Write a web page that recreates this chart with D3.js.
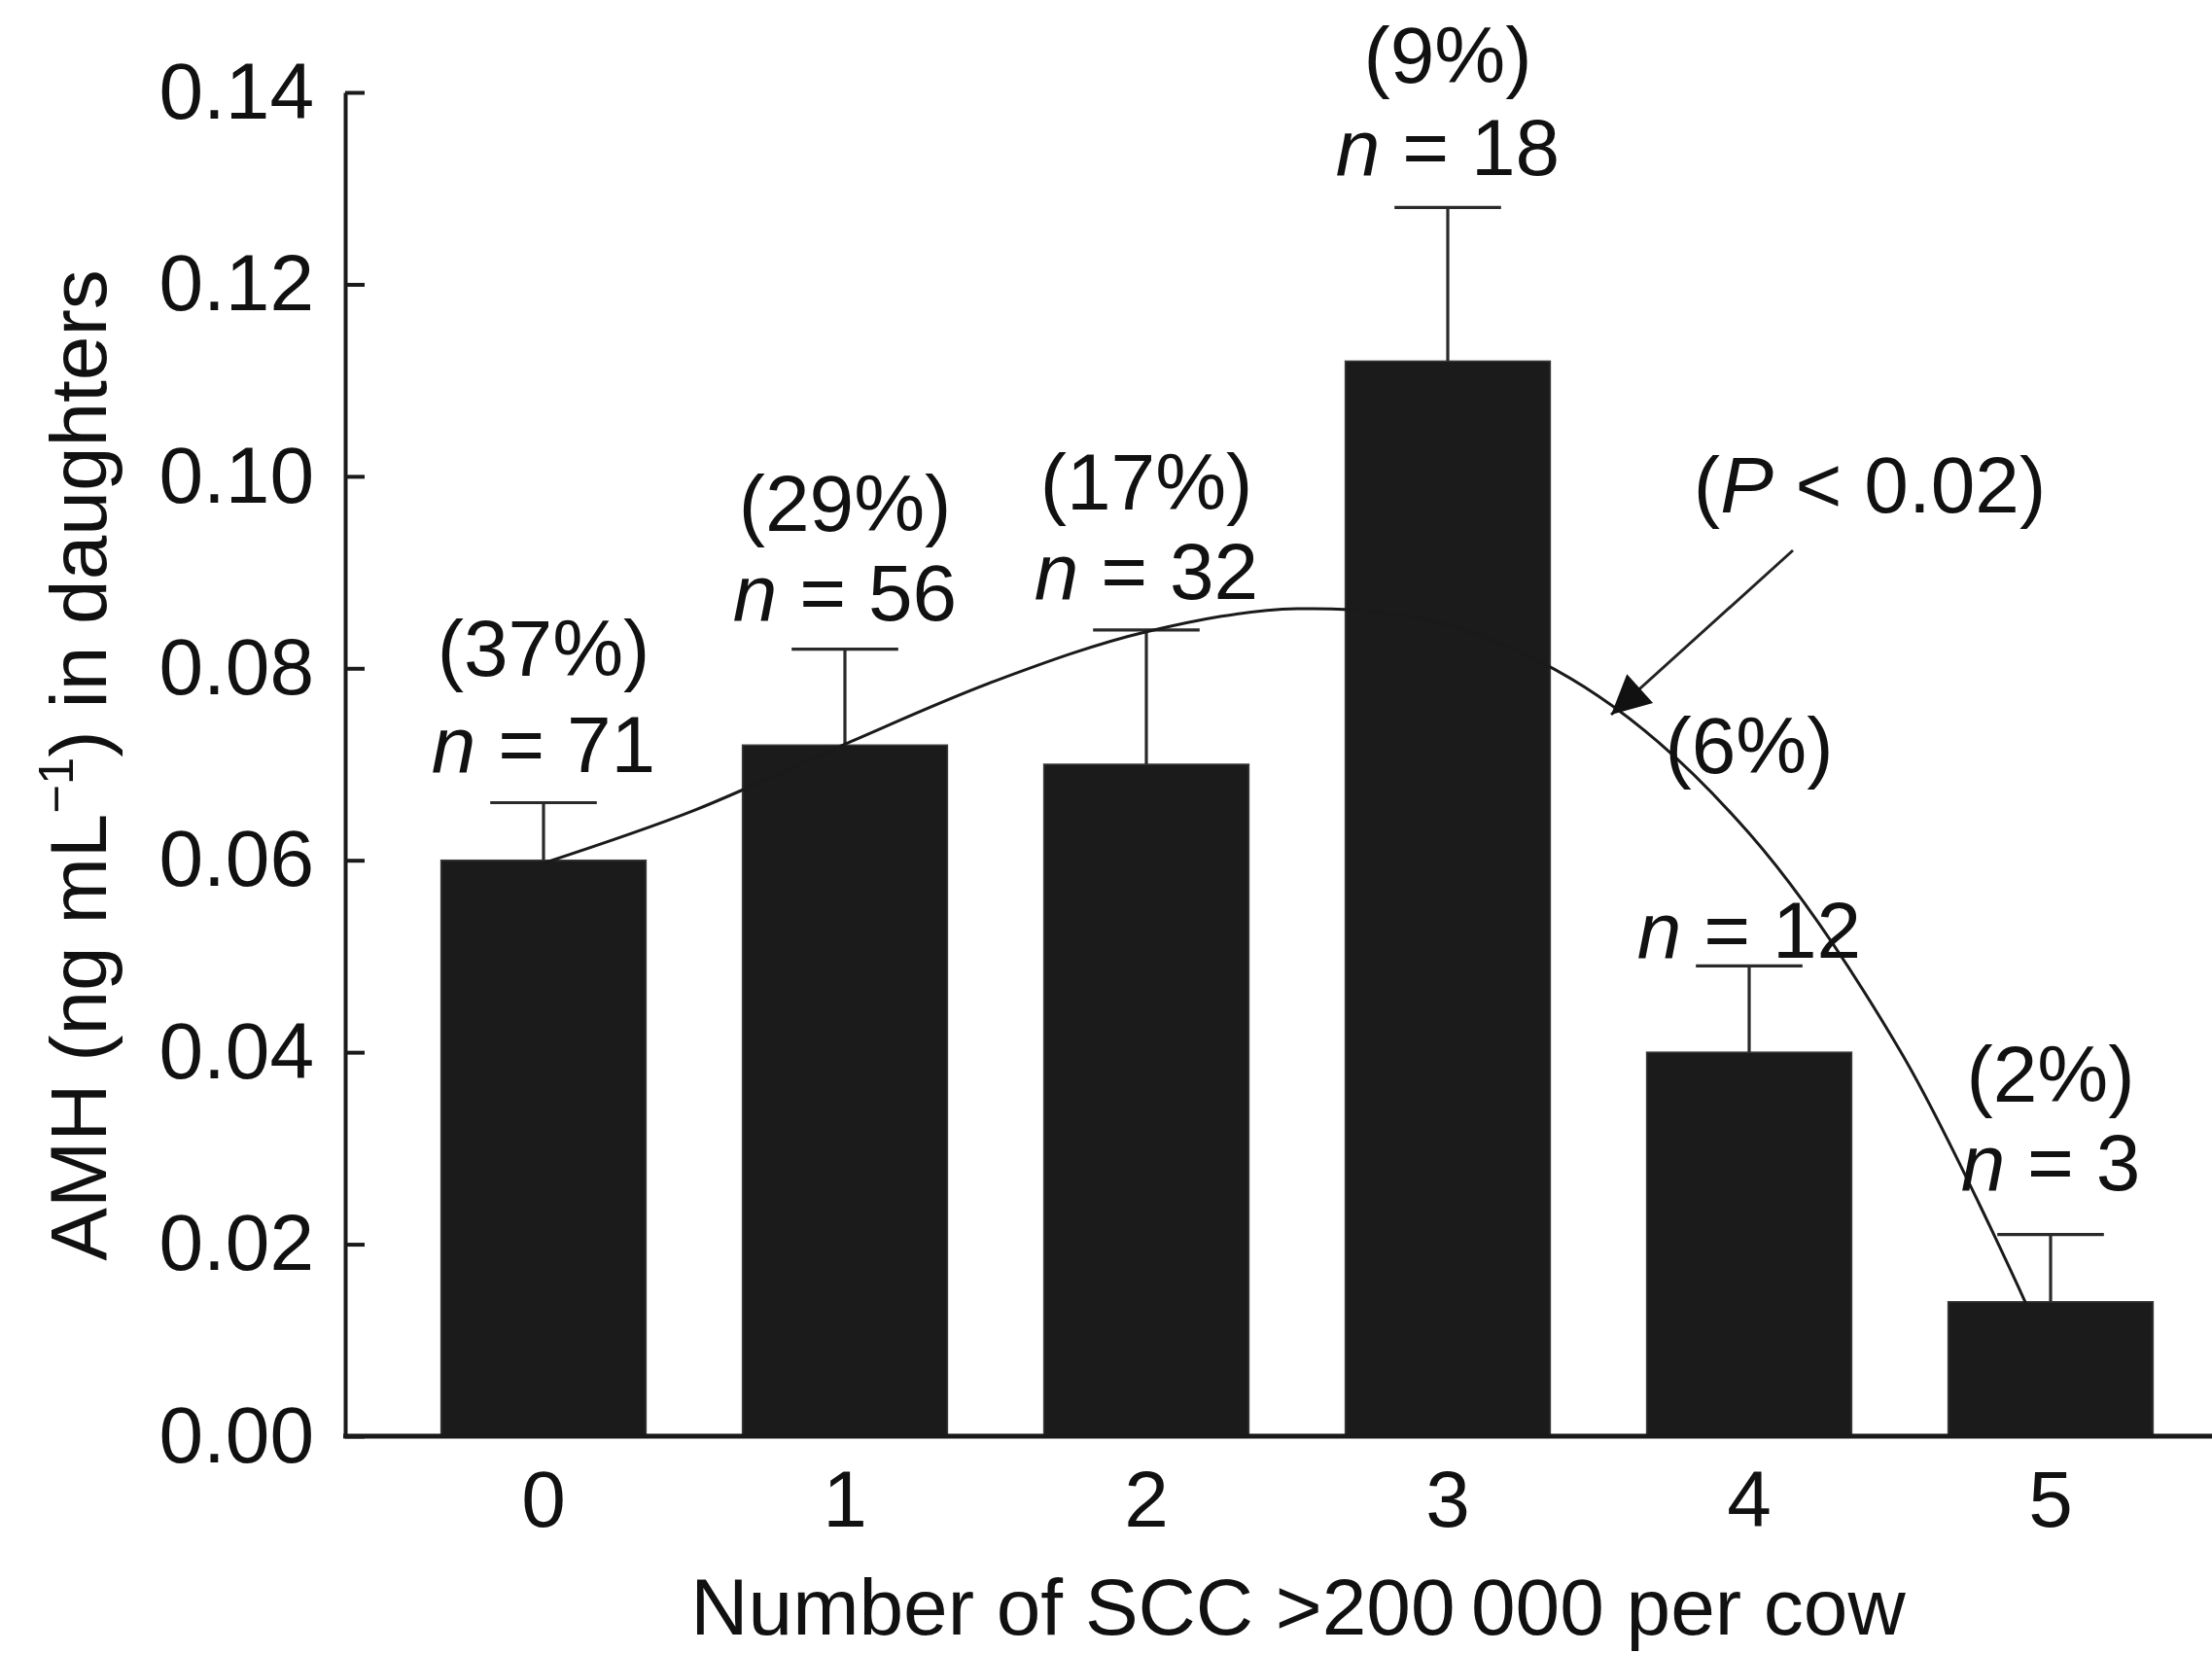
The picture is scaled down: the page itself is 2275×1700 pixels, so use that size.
<!DOCTYPE html>
<html>
<head>
<meta charset="utf-8">
<script src="https://cdn.jsdelivr.net/npm/d3@7"></script>
<style>
  html, body { margin: 0; padding: 0; background: #ffffff; }
  svg { display: block; }
  text { font-family: "Liberation Sans", Arial, Helvetica, sans-serif; fill: #111; }
</style>
</head>
<body>
<svg id="chart" width="2275" height="1700"></svg>
<script>
// Number of SCC counts >200 000 per cow (categories on the x axis)
const categories = ["0", "1", "2", "3", "4", "5"];
// Mean AMH in daughters (ng/mL) and the standard error above each bar
const amhMean = [0.060, 0.072, 0.070, 0.112, 0.040, 0.014];
const amhSem = [0.006, 0.010, 0.014, 0.016, 0.009, 0.007];
// Share of cows and number of cows in each group
const cowShare = ["(37%)", "(29%)", "(17%)", "(9%)", "(6%)", "(2%)"];
const cowCount = [71, 56, 32, 18, 12, 3];
// Y axis ticks
const yTicks = [0.00, 0.02, 0.04, 0.06, 0.08, 0.10, 0.12, 0.14];
// Fitted trend across the groups (x in group index units)
const trendX = [0, 0.5, 1, 1.5, 2, 2.5, 3, 3.5, 4, 4.5, 4.92];
const trendY = [0.0597, 0.0652, 0.0721, 0.0787, 0.0838, 0.0862, 0.0845, 0.0771, 0.0628, 0.0402, 0.0137];
const trendNote = "0.02";

// ---- layout ----
const W = 2275, H = 1700;
const axisX = 355, axisY0 = 1477, axisYTop = 95;
const fontSize = 82;
// how far the "n = …" line sits above the error cap, and the share line above that
const nLift = [31, 30, 32, 33, 8, 46];
const shareLift = [99, 92, 92, 95, 190, 91];

const svg = d3.select("#chart");

const y = d3.scaleLinear().domain([0, 0.14]).range([axisY0, axisYTop]);
const x = d3.scaleBand()
  .domain(categories)
  .range([404, 2264])
  .paddingInner(0.32)
  .paddingOuter(0.16);
const bw = x.bandwidth();
const cx = c => x(c) + bw / 2;
const xi = d3.scaleLinear().domain([0, 5]).range([cx(categories[0]), cx(categories[5])]);

// ---- bars ----
svg.append("g").selectAll("rect")
  .data(categories)
  .join("rect")
  .attr("x", c => x(c))
  .attr("y", (c, i) => y(amhMean[i]))
  .attr("width", bw)
  .attr("height", (c, i) => y(0) - y(amhMean[i]))
  .attr("fill", "#1b1b1b")
  .attr("stroke", "#3a3a3a")
  .attr("stroke-width", 1.5);

// ---- error bars (upper only) ----
const capHalf = bw * 0.26;
const eb = svg.append("g").attr("stroke", "#2a2a2a").attr("stroke-width", 3.2).attr("fill", "none");
categories.forEach((c, i) => {
  const top = y(amhMean[i] + amhSem[i]);
  eb.append("line").attr("x1", cx(c)).attr("x2", cx(c)).attr("y1", y(amhMean[i])).attr("y2", top);
  eb.append("line").attr("x1", cx(c) - capHalf).attr("x2", cx(c) + capHalf).attr("y1", top).attr("y2", top);
});

// ---- axes ----
const yAxis = d3.axisLeft(y)
  .tickValues(yTicks)
  .tickFormat(d3.format(".2f"))
  .tickSizeInner(-20)
  .tickSizeOuter(0)
  .tickPadding(32);
const gy = svg.append("g").attr("transform", `translate(${axisX},0)`).call(yAxis);
gy.select(".domain").attr("stroke", "#1a1a1a").attr("stroke-width", 4);
gy.selectAll(".tick line").attr("stroke", "#1a1a1a").attr("stroke-width", 4);
gy.selectAll(".tick text").attr("font-size", fontSize).attr("fill", "#111")
  .attr("font-family", "Liberation Sans, Arial, Helvetica, sans-serif");

const xAxis = d3.axisBottom(x).tickSize(0).tickPadding(35);
const gx = svg.append("g").attr("transform", `translate(0,${axisY0})`).call(xAxis);
gx.select(".domain").remove();
gx.selectAll(".tick text").attr("font-size", fontSize).attr("fill", "#111")
  .attr("font-family", "Liberation Sans, Arial, Helvetica, sans-serif");
svg.append("line")
  .attr("x1", axisX - 2).attr("x2", W)
  .attr("y1", axisY0).attr("y2", axisY0)
  .attr("stroke", "#1a1a1a").attr("stroke-width", 5);

// ---- axis titles ----
svg.append("text")
  .attr("x", 1335).attr("y", 1681)
  .attr("text-anchor", "middle")
  .attr("font-size", fontSize)
  .text("Number of SCC >200\u2009000 per cow");

const yTitle = svg.append("text")
  .attr("transform", "translate(109,787) rotate(-90)")
  .attr("text-anchor", "middle")
  .attr("font-size", fontSize);
yTitle.append("tspan").text("AMH (ng mL");
yTitle.append("tspan").attr("font-size", fontSize * 0.62).attr("dy", -fontSize * 0.42).text("\u22121");
yTitle.append("tspan").attr("dy", fontSize * 0.42).text(") in daughters");

// ---- trend curve ----
const line = d3.line()
  .x((d, i) => xi(trendX[i]))
  .y((d, i) => y(trendY[i]))
  .curve(d3.curveCatmullRom.alpha(0.5));
svg.append("path")
  .datum(trendX)
  .attr("d", line)
  .attr("fill", "none")
  .attr("stroke", "#1a1a1a")
  .attr("stroke-width", 3);

// ---- group labels ----
const lab = svg.append("g").attr("text-anchor", "middle").attr("font-size", fontSize);
categories.forEach((c, i) => {
  const capY = y(amhMean[i] + amhSem[i]);
  const nY = capY - nLift[i];
  const t = lab.append("text").attr("x", cx(c)).attr("y", nY);
  t.append("tspan").attr("font-style", "italic").text("n");
  t.append("tspan").text(" = " + cowCount[i]);
  lab.append("text").attr("x", cx(c)).attr("y", nY - shareLift[i]).text(cowShare[i]);
});

// ---- significance note with arrow ----
const note = svg.append("text").attr("x", 1923).attr("y", 527)
  .attr("text-anchor", "middle").attr("font-size", fontSize);
note.append("tspan").text("(");
note.append("tspan").attr("font-style", "italic").text("P");
note.append("tspan").text(" < " + trendNote + ")");

svg.append("defs").append("marker")
  .attr("id", "head")
  .attr("viewBox", "0 0 10 10")
  .attr("refX", 10).attr("refY", 5)
  .attr("markerUnits", "userSpaceOnUse")
  .attr("markerWidth", 50).attr("markerHeight", 40)
  .attr("orient", "auto")
  .append("path").attr("d", "M0,0 L10,5 L0,10 Z").attr("fill", "#111");

svg.append("line")
  .attr("x1", 1844).attr("y1", 566)
  .attr("x2", 1657).attr("y2", 735)
  .attr("stroke", "#222").attr("stroke-width", 3)
  .attr("marker-end", "url(#head)");
</script>
</body>
</html>
